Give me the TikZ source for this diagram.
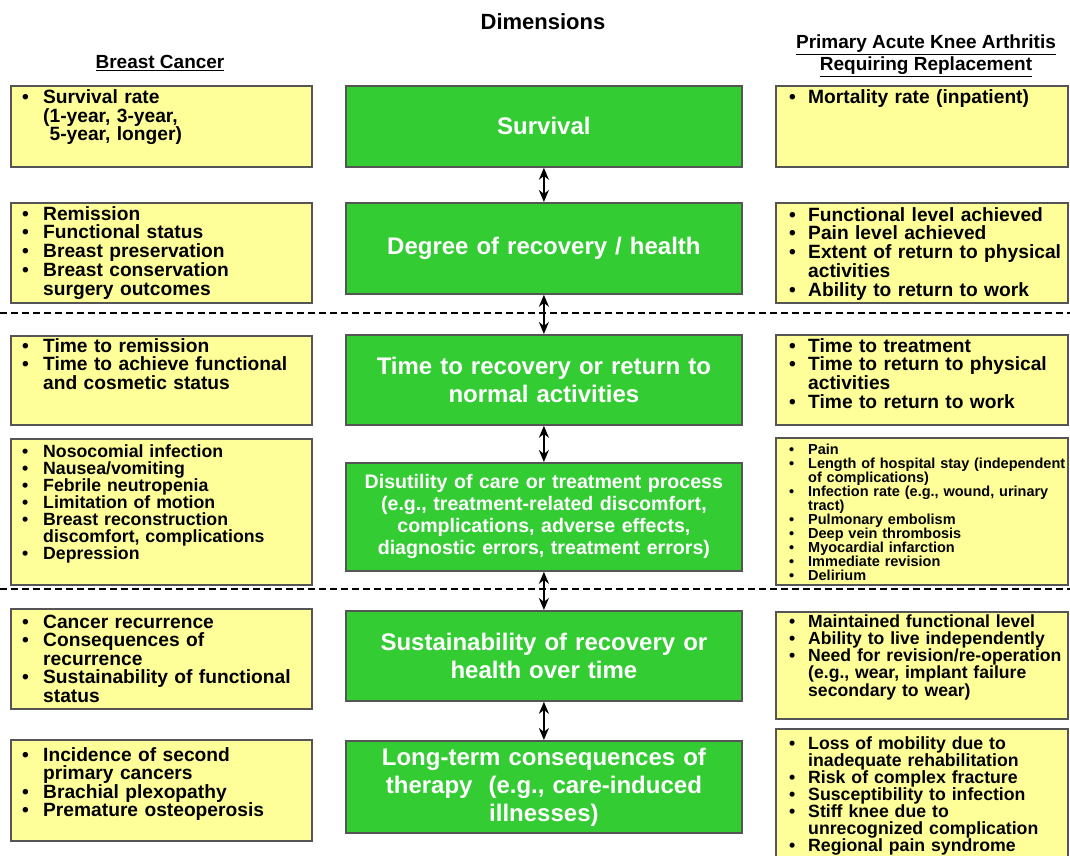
\documentclass[tikz,border=0pt]{standalone}
\usepackage{fontspec}
\setmainfont{Liberation Sans}
\usetikzlibrary{arrows.meta}
\definecolor{yfill}{HTML}{FFFF99}
\definecolor{gfill}{HTML}{33CC33}
\definecolor{bord}{HTML}{555555}
\newlength\bw
\newcommand\bl[1]{\makebox[\bw][l]{\textbullet}#1}
\newcommand\ct[1]{\hspace*{\bw}#1}
\newcommand\fs[2]{\bfseries\fontsize{#1}{#2}\selectfont\lineskiplimit=-20pt}
\begin{document}
\begin{tikzpicture}[x=1pt,y=-1pt,
 ybox/.style={draw=bord, line width=1.8pt, fill=yfill, anchor=north west, inner sep=0pt},
 gbox/.style={draw=bord, line width=1.8pt, fill=gfill, anchor=north west, inner sep=0pt,
   text=white, align=center, text width=390pt, font=\fs{24}{28}},
 ltxt/.style={anchor=base west, inner sep=0pt, text width=330pt, align=left,
   execute at begin node={\setlength\bw{21pt}}},
 rtxt/.style={anchor=base west, inner sep=0pt, text width=330pt, align=left,
   execute at begin node={\setlength\bw{19pt}}},
 link/.style={line width=1.6pt, {Stealth[length=12pt,width=10pt]}-{Stealth[length=12pt,width=10pt]}},
 sep/.style={line width=2pt, dash pattern=on 7pt off 4pt},
 head/.style={inner sep=0pt, align=center}]
\useasboundingbox[fill=white] (0,0) rectangle (1070,856);

% headers
\node[head, font=\fs{22}{26}] (title) at (543,22) {Dimensions};
\node[head, font=\fs{19}{22}] (hl) at (160,63) {\underline{Breast Cancer}};
\node[head, font=\fs{19}{22}] (hr) at (926,56) {\underline{Primary Acute Knee Arthritis}\\\underline{Requiring Replacement}};

% separators
\coordinate (d1a) at (0,313); \coordinate (d1b) at (1070,313);
\coordinate (d2a) at (0,589); \coordinate (d2b) at (1070,589);
\draw[sep] (d1a) -- (d1b);
\draw[sep] (d2a) -- (d2b);

% left boxes
\node[ybox, minimum width=301pt, minimum height=81pt]  (L1) at (10,85) {};
\node[ybox, minimum width=301pt, minimum height=100pt] (L2) at (10,202) {};
\node[ybox, minimum width=301pt, minimum height=89pt]  (L3) at (10,335) {};
\node[ybox, minimum width=301pt, minimum height=146pt] (L4) at (10,438) {};
\node[ybox, minimum width=301pt, minimum height=100pt] (L5) at (10,608) {};
\node[ybox, minimum width=301pt, minimum height=101pt] (L6) at (10,739) {};

% right boxes
\node[ybox, minimum width=292pt, minimum height=81pt]  (R1) at (775,85) {};
\node[ybox, minimum width=292pt, minimum height=100pt] (R2) at (775,202) {};
\node[ybox, minimum width=292pt, minimum height=90pt]  (R3) at (775,334) {};
\node[ybox, minimum width=292pt, minimum height=147pt] (R4) at (775,437) {};
\node[ybox, minimum width=292pt, minimum height=107pt] (R5) at (775,611) {};
\node[ybox, minimum width=292pt, minimum height=131pt] (R6) at (775,728) {};

% green boxes
\node[gbox, minimum width=396pt, minimum height=81pt] (G1) at (345,85) {Survival};
\node[gbox, minimum width=396pt, minimum height=91pt] (G2) at (345,202) {Degree of recovery / health};
\node[gbox, minimum width=396pt, minimum height=90pt] (G3) at (345,334) {Time to recovery or return to\\normal activities};
\node[gbox, minimum width=396pt, minimum height=108pt, font=\fs{19.6}{22}] (G4) at (345,462)
  {Disutility of care or treatment process\\(e.g., treatment-related discomfort,\\complications, adverse effects,\\diagnostic errors, treatment errors)};
\node[gbox, minimum width=396pt, minimum height=90pt] (G5) at (345,610) {Sustainability of recovery or\\health over time};
\node[gbox, minimum width=396pt, minimum height=92pt] (G6) at (345,740) {Long-term consequences of\\therapy\ \ (e.g., care-induced\\illnesses)};

% connectors
\draw[link] (G1.south) -- (G2.north);
\draw[link] (G2.south) -- (G3.north);
\draw[link] (G3.south) -- (G4.north);
\draw[link] (G4.south) -- (G5.north);
\draw[link] (G5.south) -- (G6.north);

% left texts
\node[ltxt, font=\fs{19.2}{18}] (L1t) at (22,104)
  {\bl{Survival rate}\\\ct{(1-year, 3-year,}\\\ct{\ 5-year, longer)}};
\node[ltxt, font=\fs{19.2}{18.75}] (L2t) at (22,220)
  {\bl{Remission}\\\bl{Functional status}\\\bl{Breast preservation}\\\bl{Breast conservation}\\\ct{surgery outcomes}};
\node[ltxt, font=\fs{19.2}{18.5}] (L3t) at (22,352)
  {\bl{Time to remission}\\\bl{Time to achieve functional}\\\ct{and cosmetic status}};
\node[ltxt, font=\fs{17.7}{17}] (L4t) at (22,457)
  {\bl{Nosocomial infection}\\\bl{Nausea/vomiting}\\\bl{Febrile neutropenia}\\\bl{Limitation of motion}\\\bl{Breast reconstruction}\\\ct{discomfort, complications}\\\bl{Depression}};
\node[ltxt, font=\fs{19.2}{18.5}] (L5t) at (22,628)
  {\bl{Cancer recurrence}\\\bl{Consequences of}\\\ct{recurrence}\\\bl{Sustainability of functional}\\\ct{status}};
\node[ltxt, font=\fs{19.2}{18.5}] (L6t) at (22,761)
  {\bl{Incidence of second}\\\ct{primary cancers}\\\bl{Brachial plexopathy}\\\bl{Premature osteoperosis}};

% right texts
\node[rtxt, font=\fs{19.2}{18.75}] (R1t) at (789,104)
  {\bl{Mortality rate (inpatient)}};
\node[rtxt, font=\fs{19.2}{18.75}] (R2t) at (789,221)
  {\bl{Functional level achieved}\\\bl{Pain level achieved}\\\bl{Extent of return to physical}\\\ct{activities}\\\bl{Ability to return to work}};
\node[rtxt, font=\fs{19.2}{18.7}] (R3t) at (789,352)
  {\bl{Time to treatment}\\\bl{Time to return to physical}\\\ct{activities}\\\bl{Time to return to work}};
\node[rtxt, font=\fs{14.5}{14}] (R4t) at (789,454)
  {\bl{Pain}\\\bl{Length of hospital stay (independent}\\\ct{of complications)}\\\bl{Infection rate (e.g., wound, urinary}\\\ct{tract)}\\\bl{Pulmonary embolism}\\\bl{Deep vein thrombosis}\\\bl{Myocardial infarction}\\\bl{Immediate revision}\\\bl{Delirium}};
\node[rtxt, font=\fs{17.6}{17.3}] (R5t) at (789,627)
  {\bl{Maintained functional level}\\\bl{Ability to live independently}\\\bl{Need for revision/re-operation}\\\ct{(e.g., wear, implant failure}\\\ct{secondary to wear)}};
\node[rtxt, font=\fs{17.7}{17}] (R6t) at (789,749)
  {\bl{Loss of mobility due to}\\\ct{inadequate rehabilitation}\\\bl{Risk of complex fracture}\\\bl{Susceptibility to infection}\\\bl{Stiff knee due to}\\\ct{unrecognized complication}\\\bl{Regional pain syndrome}};
\end{tikzpicture}
\end{document}
